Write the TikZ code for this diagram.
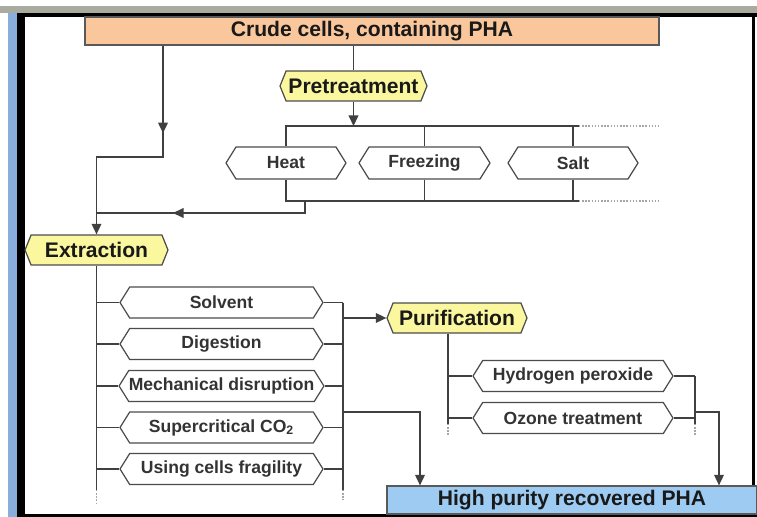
\documentclass[tikz,border=0pt]{standalone}
\usepackage{fontspec}
\setmainfont{Liberation Sans}
\usetikzlibrary{shapes.symbols,arrows.meta,decorations.markings}

\definecolor{crudeorange}{HTML}{F9C79B}
\definecolor{headyellow}{HTML}{FBF79E}
\definecolor{pureblue}{HTML}{9ECBF2}
\definecolor{framebar}{HTML}{A9ABA0}
\definecolor{frameblue}{HTML}{8AAEDB}

\tikzset{
  line/.style={draw=black!75, line width=0.8pt},
  dotline/.style={draw=black!35, line width=0.8pt, densely dotted},
  tip/.style={-{Triangle[length=6pt,width=5.5pt]}},
  midtip/.style={postaction={decorate},
    decoration={markings, mark=at position #1 with {\arrow{Triangle[length=6pt,width=5.5pt]}}}},
  heading/.style={shape=signal, signal to=west and east, signal pointer angle=136,
    draw=black!70, fill=headyellow, line width=0.7pt, inner sep=0pt,
    minimum height=0.6cm, text=black!90, font=\fontsize{12}{14}\selectfont\bfseries},
  method/.style={shape=signal, signal to=west and east, signal pointer angle=116,
    draw=black!70, fill=white, line width=0.7pt, inner sep=0pt,
    minimum height=0.64cm, text=black!80, font=\fontsize{10}{12}\selectfont\bfseries},
  bar/.style={rectangle, draw=black!65, line width=0.7pt, inner sep=0pt,
    text=black!90, font=\fontsize{12}{14}\selectfont\bfseries}
}

\begin{document}
\begin{tikzpicture}[x=0.02cm, y=-0.02cm]
  \useasboundingbox (0,0) rectangle (757,517);

  % window frame
  \fill[white] (0,0) rectangle (757,517);
  \fill[framebar] (0,6) rectangle (757,13);
  \fill[frameblue] (8,13) rectangle (17,517);
  \fill[black] (17,13) rectangle (25,517);
  \fill[black] (17,13) rectangle (757,17);
  \fill[black] (752,13) rectangle (755,517);
  \fill[black] (17,514) rectangle (757,517);

  % nodes
  \node[bar, fill=crudeorange, minimum width=11.48cm, minimum height=0.56cm] (crude) at (372,31) {Crude cells, containing PHA};
  \node[heading, minimum width=2.94cm] (pre) at (353.5,86) {Pretreatment};
  \node[method, minimum width=2.4cm] (heat) at (286,163) {Heat};
  \node[method, minimum width=2.62cm] (freezing) at (424.5,163) {Freezing};
  \node[method, minimum width=2.6cm] (salt) at (573,163) {Salt};
  \node[heading, minimum width=2.86cm] (extr) at (96.5,250) {Extraction};
  \foreach \name/\label/\y in {solvent/Solvent/302.5, digestion/Digestion/344,
      mech/Mechanical disruption/386, superc/Supercritical CO\textsubscript{2}/427.5,
      fragility/Using cells fragility/469}
    \node[method, minimum width=4.06cm, minimum height=0.62cm] (\name) at (221.5,\y) {\label};
  \node[heading, minimum width=2.8cm] (pur) at (457,318) {Purification};
  \node[method, minimum width=4cm, minimum height=0.62cm] (hyd) at (573,376) {Hydrogen peroxide};
  \node[method, minimum width=4cm, minimum height=0.62cm] (ozone) at (573,418) {Ozone treatment};
  \node[bar, fill=pureblue, minimum width=7.4cm, minimum height=0.56cm] (high) at (572,500) {High purity recovered PHA};

  % helper coordinates
  \coordinate (railA) at (0,126);
  \coordinate (railB) at (0,201);
  \coordinate (railend) at (660,0);
  \coordinate (bend) at (163,157);
  \coordinate (join) at (305,213);
  \coordinate (colend) at (0,490);
  \coordinate (rcol) at (343,0);
  \coordinate (pcol) at (448,0);
  \coordinate (pcolR) at (695,0);
  \coordinate (pend) at (0,424);
  \coordinate (dropA) at (420,412);
  \coordinate (dropB) at (719,412);

  % pretreatment branch
  \draw[line] (crude.south -| pre) -- (pre.north);
  \draw[line, tip] (pre.south) -- (pre.south |- railA);
  \draw[line] (heat.north) |- ([xshift=0.12cm]salt.north |- railA);
  \draw[dotline] ([xshift=0.12cm]salt.north |- railA) -- (railend |- railA);
  \draw[line] (heat.south) |- ([xshift=0.12cm]salt.south |- railB);
  \draw[dotline] ([xshift=0.12cm]salt.south |- railB) -- (railend |- railB);
  \foreach \m in {freezing, salt} {
    \draw[line] (\m.north) -- (\m.north |- railA);
    \draw[line] (\m.south) -- (\m.south |- railB);
  }

  % into extraction
  \draw[line, tip, midtip=0.343] (crude.south -| bend) -- (bend) -| (extr.north);
  \draw[line, midtip=0.653] (join |- railB) -- (join) -- (join -| extr.north);

  % extraction methods
  \draw[line] (extr.south) -- (extr.south |- colend);
  \draw[dotline] (extr.south |- colend) -- ++(0,13);
  \draw[line] (solvent.east -| rcol) -- (rcol |- colend);
  \draw[dotline] (rcol |- colend) -- ++(0,10);
  \foreach \m in {solvent, digestion, mech, superc, fragility} {
    \draw[line] (\m.west -| extr.south) -- (\m.west);
    \draw[line] (\m.east) -- (\m.east -| rcol);
  }
  \draw[line, tip] (rcol |- pur.west) -- (pur.west);
  \draw[line, tip] (rcol |- dropA) -| (high.north -| dropA);

  % purification
  \draw[line] (pur.south -| pcol) -- (pcol |- pend);
  \draw[dotline] (pcol |- pend) -- ++(0,12);
  \draw[line] (hyd.east -| pcolR) -- (pcolR |- pend);
  \draw[dotline] (pcolR |- pend) -- ++(0,12);
  \foreach \m in {hyd, ozone} {
    \draw[line] (pcol |- \m.west) -- (\m.west);
    \draw[line] (\m.east) -- (\m.east -| pcolR);
  }
  \draw[line, tip] (pcolR |- dropB) -| (high.north -| dropB);
\end{tikzpicture}
\end{document}
